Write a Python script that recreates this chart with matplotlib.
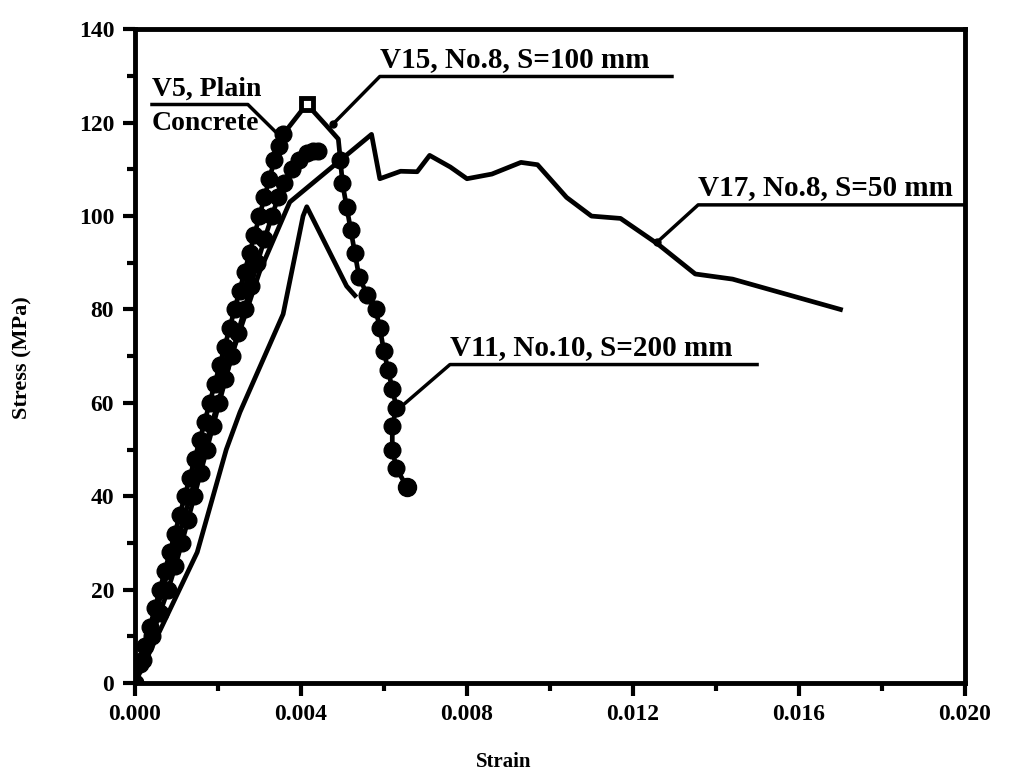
import numpy as np
import matplotlib
matplotlib.use("Agg")
import matplotlib.pyplot as plt
from matplotlib.ticker import MultipleLocator, FormatStrFormatter

plt.rcParams['font.family'] = ['Liberation Serif', 'DejaVu Serif']
plt.rcParams['font.weight'] = 'bold'

# stress-strain data
v15_strain = [0, 0.00012, 0.00024, 0.00036, 0.00048, 0.0006, 0.00072, 0.00084, 0.00096,
              0.00108, 0.0012, 0.00132, 0.00144, 0.00156, 0.00168, 0.0018, 0.00192, 0.00204,
              0.00216, 0.00228, 0.0024, 0.00252, 0.00264, 0.00276, 0.00288, 0.0030, 0.00312,
              0.00324, 0.00336, 0.00347, 0.00357,
              0.00414, 0.0046, 0.0049, 0.00495, 0.0050, 0.0051, 0.0052, 0.0053, 0.0054,
              0.0056, 0.0058, 0.0059, 0.0060, 0.0061, 0.0062, 0.0063, 0.0062, 0.0062,
              0.0063, 0.00655]
v15_stress = [0, 4, 8, 12, 16, 20, 24, 28, 32, 36, 40, 44, 48, 52, 56, 60, 64, 68, 72, 76, 80,
              84, 88, 92, 96, 100, 104, 108, 112, 115, 117.5,
              124, 119.5, 116.5, 112, 107, 102, 97, 92, 87, 83, 80, 76, 71, 67, 63, 59, 55,
              50, 46, 42]

v5_strain = [0, 0.0002, 0.0004, 0.0006, 0.0008, 0.00097, 0.00113, 0.00128, 0.00143, 0.00158,
             0.00173, 0.00188, 0.00203, 0.00218, 0.00233, 0.00248, 0.00264, 0.00279, 0.00295,
             0.00312, 0.0033, 0.00345, 0.0036, 0.00378, 0.00395, 0.00415, 0.0043, 0.0044]
v5_stress = [0, 5, 10, 15, 20, 25, 30, 35, 40, 45, 50, 55, 60, 65, 70, 75, 80, 85, 90, 95,
             100, 104, 107, 110, 112, 113.5, 114, 114]

v11_strain = [0, 0.0015, 0.0022, 0.00253, 0.00357, 0.00405, 0.00414, 0.0051, 0.0053]
v11_stress = [0, 28, 50, 58, 79, 100, 102, 85, 83]

v17_strain = [0, 0.0006, 0.0012, 0.0018, 0.0024, 0.0030, 0.00373, 0.0057, 0.0059, 0.0064,
              0.0068, 0.0071, 0.0076, 0.0080, 0.0086, 0.0093, 0.0097, 0.0104, 0.0110, 0.0117,
              0.0126, 0.0135, 0.0144, 0.0170]
v17_stress = [0, 18, 36, 54, 72, 88, 103, 117.5, 108, 109.6, 109.5, 113, 110.5, 108, 109,
              111.5, 111, 104, 100, 99.5, 94, 87.6, 86.5, 80]

# callout labels: text, underline (attach end, far end, y), leader tip (x, y)
labels = ["V5, Plain\nConcrete", "V15, No.8, S=100 mm", "V17, No.8, S=50 mm", "V11, No.10, S=200 mm"]
label_lines = [(0.00272, 0.00041, 123.9), (0.0059, 0.01294, 129.9),
               (0.01357, 0.01995, 102.4), (0.00759, 0.01499, 68.2)]
label_tips = [(0.00354, 116.7), (0.00477, 119.7), (0.01258, 94.4), (0.00639, 59.0)]

fig = plt.figure(figsize=(10.11, 7.80), dpi=100)
ax = fig.add_axes([0.1335, 0.1244, 0.821, 0.838])

lw = 3.4
ms = 12
ax.plot(v17_strain, v17_stress, color='black', lw=lw)
ax.plot(v11_strain, v11_stress, color='black', lw=lw)
ax.plot(v5_strain, v5_stress, color='black', lw=lw, marker='o', ms=ms)
n_up = 31
marked = list(range(0, n_up)) + list(range(n_up + 3, len(v15_strain)))
ax.plot(v15_strain, v15_stress, color='black', lw=lw, marker='o', ms=ms, markevery=marked)
ax.plot(v15_strain[-1], v15_stress[-1], 'o', color='black', ms=13)
pk = int(np.argmax(v15_stress))
ax.plot(v15_strain[pk], v15_stress[pk], 's', ms=9, mfc='white', mec='black', mew=3.5)

for txt, (xa, xf, yl), (xt, yt) in zip(labels, label_lines, label_tips):
    ax.plot([xt, xa, xf], [yt, yl, yl], color='black', lw=2.5, clip_on=False)
    ax.plot(xt, yt, 'o', color='black', ms=5)
    x0 = min(xa, xf)
    if "\n" in txt:
        first, second = txt.split("\n")
        ax.text(x0, yl + 0.5, first, fontsize=20, fontweight='bold', ha='left', va='bottom')
        ax.text(x0, yl - 1.5, second, fontsize=20, fontweight='bold', ha='left', va='top')
    else:
        ax.text(x0, yl + 0.8, txt, fontsize=21, fontweight='bold', ha='left', va='bottom')

ax.set_xlim(0, 0.020)
ax.set_ylim(0, 140)
ax.xaxis.set_major_locator(MultipleLocator(0.004))
ax.xaxis.set_minor_locator(MultipleLocator(0.002))
ax.yaxis.set_major_locator(MultipleLocator(20))
ax.yaxis.set_minor_locator(MultipleLocator(10))
ax.xaxis.set_major_formatter(FormatStrFormatter('%.3f'))
ax.tick_params(which='major', direction='out', length=9, width=3, labelsize=17, pad=6)
ax.tick_params(which='minor', direction='out', length=6, width=3)
for lab in ax.get_xticklabels() + ax.get_yticklabels():
    lab.set_fontweight('bold')
for sp in ax.spines.values():
    sp.set_linewidth(3.5)

fig.text(0.4985, 0.023, "Strain", fontsize=15, fontweight='bold', ha='center', va='center')
fig.text(0.0218, 0.541, "Stress (MPa)", fontsize=16, fontweight='bold', rotation=90,
         ha='center', va='center')

fig.savefig("out.png", dpi=100)
